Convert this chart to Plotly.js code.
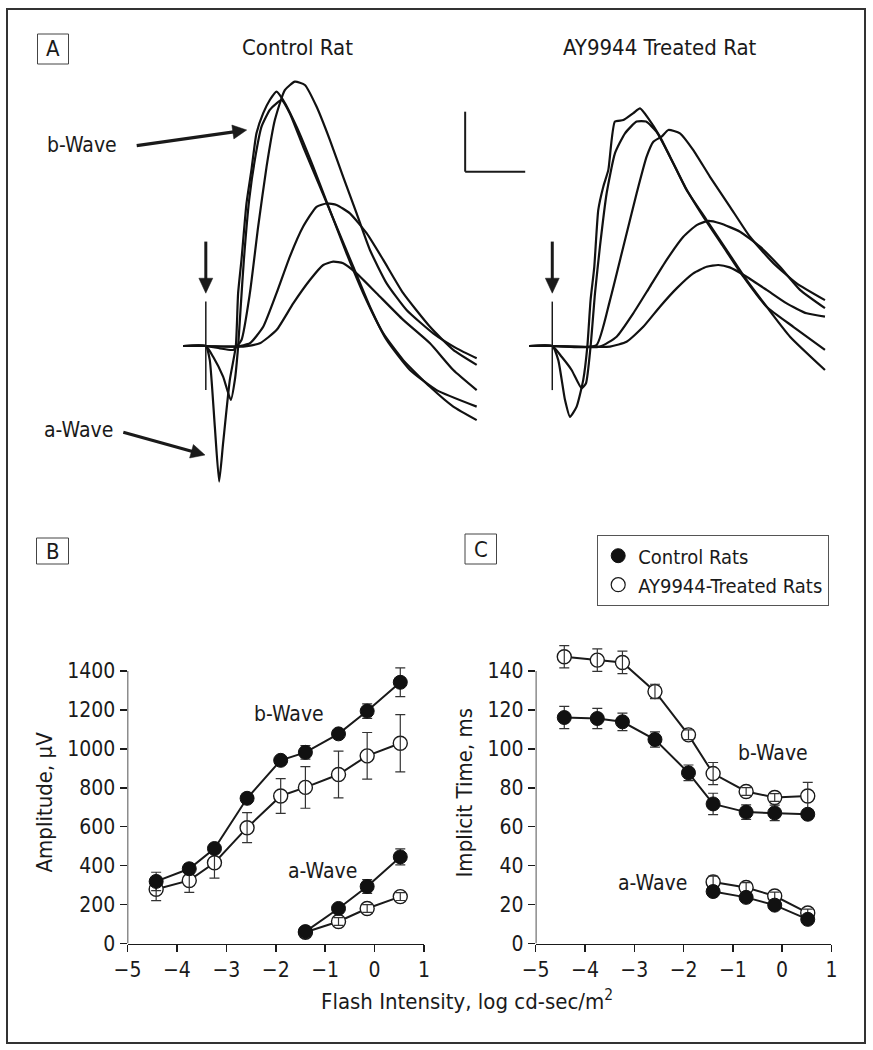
<!DOCTYPE html>
<html>
<head>
<meta charset="utf-8">
<script src="https://cdn.plot.ly/plotly-3.0.1.min.js"></script>
<style>
  html, body { margin: 0; padding: 0; background: #fff; }
  #chart { width: 873px; height: 1050px; }
</style>
</head>
<body>
<div id="chart"></div>
<script>
// ---------------- DATA ----------------
// Panel B/C: flash intensities (log cd-sec/m2)
const flashIntensity = [-4.42, -3.75, -3.24, -2.58, -1.90, -1.40, -0.73, -0.15, 0.52];
const aWaveIntensity = [-1.40, -0.73, -0.15, 0.52];

// Panel B: amplitudes (µV)
const ampBControl = [319, 384, 488, 746, 941, 982, 1077, 1194, 1342];
const ampBControlErr = [47, 27, 15, 20, 15, 35, 20, 37, 74];
const ampBTreated = [279, 324, 415, 595, 758, 802, 868, 964, 1029];
const ampBTreatedErr = [59, 61, 79, 77, 89, 107, 120, 120, 147];
const ampAControl = [61, 180, 293, 445];
const ampAControlErr = [10, 15, 35, 41];
const ampATreated = [58, 113, 180, 241];
const ampATreatedErr = [10, 20, 20, 20];

// Panel C: implicit times (ms)
const timeBControl = [116.1, 115.6, 113.9, 104.8, 87.7, 71.7, 67.5, 67.1, 66.4];
const timeBControlErr = [5.7, 5.2, 4.5, 3.9, 4.0, 5.5, 3.7, 4.0, 2.0];
const timeBTreated = [147.3, 145.6, 144.4, 129.5, 107.2, 87.3, 78.1, 75.0, 75.8];
const timeBTreatedErr = [5.7, 5.8, 5.8, 3.7, 2.5, 5.7, 2.0, 2.0, 7.0];
const timeAControl = [26.7, 23.7, 19.7, 12.4];
const timeAControlErr = [2, 2, 2, 2];
const timeATreated = [31.6, 28.8, 24.4, 15.7];
const timeATreatedErr = [3, 2.5, 2, 2];

// Panel A: ERG waveforms, time (ms after flash) and amplitude (µV)
const ctrl1Ms = [-18.9, 0, 3.3, 7.5, 11.1, 14.4, 20, 25, 26.9, 29.7, 33.9, 38, 42.2, 47.8, 53.3, 58.9, 64.4, 75.6, 89.4, 103.3, 117.2, 131.1, 147.8, 164.4, 186.7, 206.1, 225.6];
const ctrl1Uv = [0, 0, -47, -269, -452, -324, -113, 0, 176, 287, 476, 587, 709, 776, 820, 848, 820, 731, 598, 453, 309, 176, 42, -47, -136, -202, -247];
const ctrl2Ms = [-18.9, 0, 6.1, 14.4, 20.8, 24.2, 26.9, 28.9, 31.7, 36.1, 40.8, 46.4, 53.3, 58.9, 63.1, 70, 81.1, 95, 108.9, 122.8, 136.7, 150.6, 170, 192.2, 225.6];
const ctrl2Uv = [0, 0, -36, -102, -180, -113, -2, 120, 287, 487, 620, 731, 787, 809, 820, 775, 664, 531, 398, 264, 131, 20, -80, -147, -202];
const ctrl3Ms = [-18.9, 0, 11.7, 22.8, 29.7, 36.7, 43.6, 50.6, 57.5, 65.8, 74.2, 82.5, 92.2, 103.3, 114.4, 125.6, 136.7, 150.6, 167.2, 189.4, 208.9, 225.6];
const ctrl3Uv = [0, 0, -8, -13, 20, 176, 398, 598, 753, 853, 881, 870, 798, 687, 564, 442, 320, 209, 120, 42, -8, -41];
const ctrl4Ms = [-18.9, 0, 25.6, 36.7, 47.8, 58.9, 70, 81.1, 92.2, 100.6, 108.9, 120, 133.9, 147.8, 164.4, 186.7, 206.1, 225.6];
const ctrl4Uv = [0, 0, -2, 9, 64, 176, 298, 398, 464, 475, 470, 442, 376, 287, 176, 64, -13, -63];
const ctrl5Ms = [-18.9, 0, 31.1, 45, 58.9, 72.8, 86.7, 97.8, 106.1, 114.4, 125.6, 142.2, 164.4, 186.7, 206.1, 225.6];
const ctrl5Uv = [0, 0, -2, 9, 53, 142, 220, 270, 281, 276, 242, 176, 87, 9, -80, -147];

const trt1Ms = [-19.2, 0, 5, 10.6, 14.7, 20.3, 25.8, 29.2, 31.9, 35, 38.3, 42.5, 46.7, 52.2, 59.2, 67.5, 73.1, 80, 89.7, 100.8, 111.9, 128.6, 145.3, 161.9, 178.6, 198.1, 227.2];
const trt1Uv = [0, 0, -47, -180, -236, -202, -113, -2, 153, 264, 453, 531, 587, 748, 753, 776, 792, 759, 698, 609, 520, 420, 320, 220, 131, 31, -80];
const trt2Ms = [-19.2, 0, 7.8, 16.1, 24.4, 28.1, 31.9, 35.6, 39.7, 45.3, 52.2, 60.6, 70.3, 78.1, 86.9, 98.1, 110.6, 125.8, 142.5, 159.2, 178.6, 200.8, 227.2];
const trt2Uv = [0, 0, -36, -80, -141, -124, -2, 176, 331, 509, 642, 709, 748, 748, 714, 631, 531, 431, 331, 231, 131, 64, -13];
const trt3Ms = [-19.2, 0, 20.3, 36.9, 48.1, 59.2, 70.3, 78.6, 84.2, 91.1, 96.7, 106.4, 117.5, 131.4, 148.1, 164.7, 184.2, 203.6, 227.2];
const trt3Uv = [0, 0, -4, 3, 153, 331, 509, 631, 681, 698, 720, 709, 653, 564, 464, 364, 276, 209, 153];
const trt4Ms = [-19.2, 0, 39.7, 53.6, 67.5, 81.4, 95.3, 109.2, 120.3, 130, 139.7, 156.4, 173.1, 189.7, 206.4, 227.2];
const trt4Uv = [0, 0, -2, 31, 109, 198, 287, 364, 403, 417, 409, 381, 331, 264, 187, 126];
const trt5Ms = [-19.2, 0, 48.1, 61.9, 75.8, 89.7, 103.6, 117.5, 128.6, 138.3, 147.8, 161.9, 178.6, 195.3, 211.9, 227.2];
const trt5Uv = [0, 0, -2, 14, 64, 131, 192, 242, 264, 270, 262, 231, 187, 142, 109, 98];

// Scale bar (ms, µV)
const scaleBarMs = 50;
const scaleBarUv = 200;

// ---------------- LAYOUT HELPERS ----------------
const W = 873, H = 1050;
const px = x => x / W;
const py = y => 1 - y / H;
const FONT = '"Liberation Sans Narrow", "Arial Narrow", "DejaVu Sans Condensed", sans-serif';
const INK = '#1a1a1a';

const traces = [];

// Panel A waveforms
function wave(t, v, xa, ya) {
  return { x: t, y: v, xaxis: xa, yaxis: ya, type: 'scatter', mode: 'lines',
    line: { color: '#111', width: 2.2, shape: 'spline', smoothing: 0.5 },
    showlegend: false, hoverinfo: 'skip' };
}
[[ctrl1Ms, ctrl1Uv], [ctrl2Ms, ctrl2Uv], [ctrl3Ms, ctrl3Uv], [ctrl4Ms, ctrl4Uv], [ctrl5Ms, ctrl5Uv]]
  .forEach(p => traces.push(wave(p[0], p[1], 'x3', 'y3')));
[[trt1Ms, trt1Uv], [trt2Ms, trt2Uv], [trt3Ms, trt3Uv], [trt4Ms, trt4Uv], [trt5Ms, trt5Uv]]
  .forEach(p => traces.push(wave(p[0], p[1], 'x4', 'y4')));

// Panels B and C series
function treatedSeries(x, y, err, xa, ya) {
  traces.push({ x, y, xaxis: xa, yaxis: ya, type: 'scatter', mode: 'lines+markers',
    line: { color: INK, width: 2 },
    marker: { symbol: 'circle', size: 14, color: '#fff', line: { color: INK, width: 1.4 } },
    showlegend: false });
  traces.push({ x, y, xaxis: xa, yaxis: ya, type: 'scatter', mode: 'markers',
    marker: { size: 14, color: 'rgba(0,0,0,0)', line: { width: 0 } },
    error_y: { type: 'data', array: err, visible: true, color: '#333', thickness: 1.2, width: 5 },
    showlegend: false });
}
function controlSeries(x, y, err, xa, ya) {
  traces.push({ x, y, xaxis: xa, yaxis: ya, type: 'scatter', mode: 'lines+markers',
    line: { color: INK, width: 2 },
    marker: { symbol: 'circle', size: 14, color: '#111', line: { color: '#111', width: 1 } },
    error_y: { type: 'data', array: err, visible: true, color: '#333', thickness: 1.2, width: 5 },
    showlegend: false });
}
treatedSeries(flashIntensity, ampBTreated, ampBTreatedErr, 'x', 'y');
treatedSeries(aWaveIntensity, ampATreated, ampATreatedErr, 'x', 'y');
controlSeries(flashIntensity, ampBControl, ampBControlErr, 'x', 'y');
controlSeries(aWaveIntensity, ampAControl, ampAControlErr, 'x', 'y');

treatedSeries(flashIntensity, timeBTreated, timeBTreatedErr, 'x2', 'y2');
treatedSeries(aWaveIntensity, timeATreated, timeATreatedErr, 'x2', 'y2');
controlSeries(flashIntensity, timeBControl, timeBControlErr, 'x2', 'y2');
controlSeries(aWaveIntensity, timeAControl, timeAControlErr, 'x2', 'y2');

// Legend entries
traces.push({ x: [null], y: [null], xaxis: 'x2', yaxis: 'y2', type: 'scatter', mode: 'markers',
  name: 'Control Rats', marker: { size: 14, color: '#111', line: { color: '#111', width: 1 } } });
traces.push({ x: [null], y: [null], xaxis: 'x2', yaxis: 'y2', type: 'scatter', mode: 'markers',
  name: 'AY9944-Treated Rats', marker: { size: 14, color: '#fff', line: { color: INK, width: 1.2 } } });

// Axes. The y ranges reach a little above the top tick so that points
// above it stay visible; the drawn axis line stops at the top tick.
const yZeroPx = 943.5, yTopTickPx = 671;
const ampTopTick = 1400, ampRangeMax = 1450;
const timeTopTick = 140, timeRangeMax = 155;
const domFor = (top, max) => [py(yZeroPx), py(yZeroPx - (yZeroPx - yTopTickPx) * max / top)];

function dataXAxis(dom, anchor) {
  return { domain: dom, range: [-5, 1], dtick: 1, tick0: -5, anchor, showline: true, linecolor: INK, linewidth: 1.5,
    ticks: 'outside', ticklen: 7, tickwidth: 1.5, tickcolor: INK, showgrid: false, zeroline: false,
    tickfont: { size: 21, color: INK }, fixedrange: true };
}
function dataYAxis(dom, range, dtick, anchor, title) {
  return { domain: dom, range, dtick, tick0: 0, anchor, showline: false,
    ticks: 'outside', ticklen: 7, tickwidth: 1.5, tickcolor: INK, showgrid: false, zeroline: false,
    tickfont: { size: 21, color: INK }, title: { text: title, font: { size: 22, color: INK }, standoff: 8 },
    fixedrange: true };
}
const hidden = (dom, range, anchor) => ({ domain: dom, range, anchor, visible: false, showgrid: false, zeroline: false, fixedrange: true });

const panelAY = [py(490), py(60)];
const panelAUv = [-480, 953.3];

// arrow built from a tail and a tip given in page pixels
function arrowShapes(tail, tip, headLen, headHalf, width) {
  const dx = tip[0] - tail[0], dy = tip[1] - tail[1];
  const L = Math.hypot(dx, dy), ux = dx / L, uy = dy / L, nx = -uy, ny = ux;
  const bx = tip[0] - headLen * ux, by = tip[1] - headLen * uy;
  const c1 = [bx + headHalf * nx, by + headHalf * ny], c2 = [bx - headHalf * nx, by - headHalf * ny];
  const P = p => px(p[0]).toFixed(5) + ',' + py(p[1]).toFixed(5);
  return [
    { type: 'line', xref: 'paper', yref: 'paper', x0: px(tail[0]), y0: py(tail[1]), x1: px(bx + ux), y1: py(by + uy),
      line: { color: INK, width } },
    { type: 'path', xref: 'paper', yref: 'paper', path: 'M' + P(tip) + ' L' + P(c1) + ' L' + P(c2) + ' Z',
      fillcolor: INK, line: { color: INK, width: 0.5 } }
  ];
}
// flash arrow in a waveform subplot (data units: ms, µV)
function flashArrow(xa, ya) {
  return [
    { type: 'line', xref: xa, yref: ya, x0: 0, x1: 0, y0: 348, y1: 222, line: { color: INK, width: 3 } },
    { type: 'path', xref: xa, yref: ya, path: 'M -5.8,226 L 5.8,226 L 0,176 Z', fillcolor: INK, line: { color: INK, width: 0.5 } },
    { type: 'line', xref: xa, yref: ya, x0: 0, x1: 0, y0: -147, y1: 148, line: { color: INK, width: 1.5 } }
  ];
}

const shapes = [
  // outer frame
  { type: 'rect', xref: 'paper', yref: 'paper', x0: px(7), x1: px(865), y0: py(1043), y1: py(9), line: { color: '#333', width: 2 } },
  // panel letter boxes
  { type: 'rect', xref: 'paper', yref: 'paper', x0: px(37.5), x1: px(68.5), y0: py(64), y1: py(34), line: { color: '#444', width: 1 } },
  { type: 'rect', xref: 'paper', yref: 'paper', x0: px(36.5), x1: px(68.5), y0: py(564), y1: py(538), line: { color: '#444', width: 1 } },
  { type: 'rect', xref: 'paper', yref: 'paper', x0: px(465), x1: px(496.5), y0: py(564), y1: py(534), line: { color: '#444', width: 1 } },
  // y axis lines, stopping at the top tick
  { type: 'line', xref: 'x', yref: 'y', x0: -5, x1: -5, y0: 0, y1: ampTopTick, line: { color: INK, width: 1.5 } },
  { type: 'line', xref: 'x2', yref: 'y2', x0: -5, x1: -5, y0: 0, y1: timeTopTick, line: { color: INK, width: 1.5 } },
  // scale bar
  { type: 'line', xref: 'x3', yref: 'y3', x0: 216, x1: 216, y0: 581, y1: 581 + scaleBarUv, line: { color: INK, width: 2 } },
  { type: 'line', xref: 'x3', yref: 'y3', x0: 216, x1: 216 + scaleBarMs, y0: 581, y1: 581, line: { color: INK, width: 2 } }
].concat(flashArrow('x3', 'y3'), flashArrow('x4', 'y4'),
  arrowShapes([136.7, 145.7], [246.7, 130], 14, 7, 3.2),
  arrowShapes([123.3, 432.3], [205, 455], 14, 7, 3.2));

const txt = (text, x, y, size) => ({ text, x: px(x), y: py(y), xref: 'paper', yref: 'paper',
  showarrow: false, xanchor: 'center', yanchor: 'middle', font: { size, color: INK } });

const annotations = [
  txt('A', 53, 49, 22), txt('B', 52.5, 551, 22), txt('C', 480.8, 549, 22),
  txt('Control Rat', 297, 48, 22), txt('AY9944 Treated Rat', 660, 48, 22),
  txt('b-Wave', 82, 145, 21), txt('a-Wave', 78, 430, 21),
  txt('Flash Intensity, log cd-sec/m<sup>2</sup>', 467, 1000, 22),
  // in-plot labels (data coordinates)
  { text: 'b-Wave', x: -1.74, y: 1177, xref: 'x', yref: 'y', showarrow: false, font: { size: 21, color: INK } },
  { text: 'a-Wave', x: -1.06, y: 370, xref: 'x', yref: 'y', showarrow: false, font: { size: 21, color: INK } },
  { text: 'b-Wave', x: -0.19, y: 97.8, xref: 'x2', yref: 'y2', showarrow: false, font: { size: 21, color: INK } },
  { text: 'a-Wave', x: -2.63, y: 31, xref: 'x2', yref: 'y2', showarrow: false, font: { size: 21, color: INK } }
];

const layout = {
  width: W, height: H,
  margin: { l: 0, r: 0, t: 0, b: 0, pad: 0 },
  paper_bgcolor: '#fff', plot_bgcolor: 'rgba(0,0,0,0)',
  font: { family: FONT, color: INK, size: 21 },
  showlegend: true,
  legend: { x: px(597), y: py(535), xanchor: 'left', yanchor: 'top', bgcolor: '#fff',
    bordercolor: '#555', borderwidth: 1.2, font: { size: 20, color: INK }, itemwidth: 30, tracegroupgap: 0 },
  xaxis: dataXAxis([px(127.5), px(424)], 'y'),
  yaxis: dataYAxis(domFor(ampTopTick, ampRangeMax), [0, ampRangeMax], 200, 'x', 'Amplitude, µV'),
  xaxis2: dataXAxis([px(535.7), px(831.4)], 'y2'),
  yaxis2: dataYAxis(domFor(timeTopTick, timeRangeMax), [0, timeRangeMax], 20, 'x2', 'Implicit Time, ms'),
  xaxis3: hidden([px(183), px(530)], [-19, 270], 'y3'),
  yaxis3: hidden(panelAY, panelAUv, 'x3'),
  xaxis4: hidden([px(529), px(830)], [-19.4, 231.4], 'y4'),
  yaxis4: hidden(panelAY, panelAUv, 'x4'),
  shapes, annotations
};

Plotly.newPlot('chart', traces, layout, { staticPlot: true, displayModeBar: false });
</script>
</body>
</html>
